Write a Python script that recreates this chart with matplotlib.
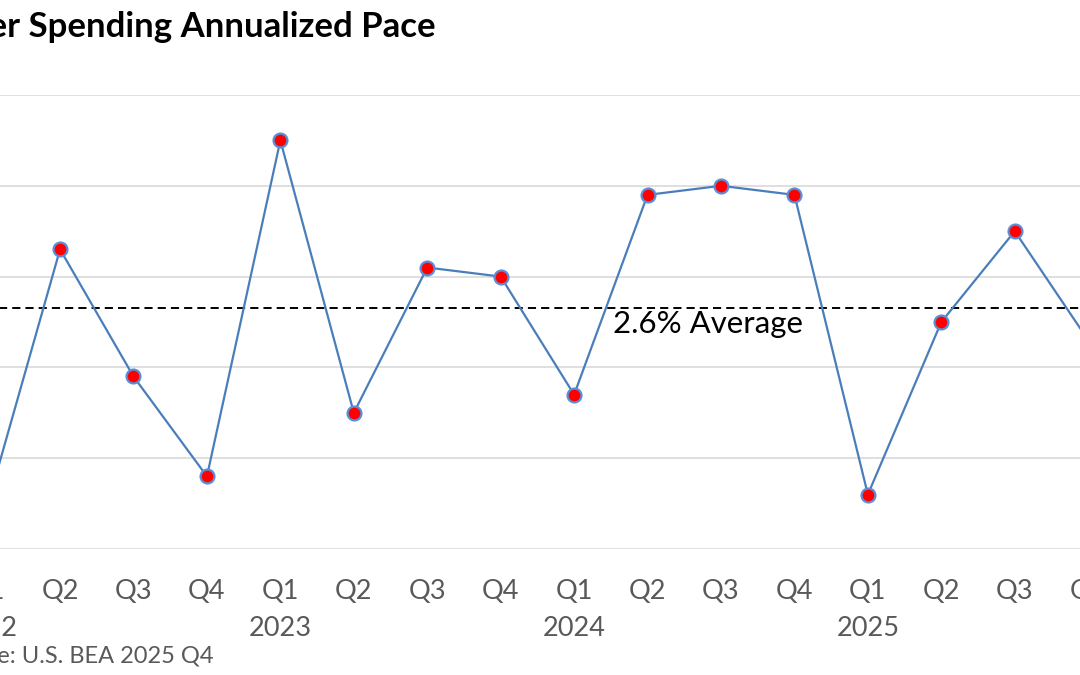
import numpy as np
import matplotlib.pyplot as plt

# quarterly real PCE growth, annualized (%), Q1 2022 .. Q4 2025
quarters = ['Q1', 'Q2', 'Q3', 'Q4'] * 4
years = ['2022', '2023', '2024', '2025']
pace = [0.45, 3.3, 1.9, 0.8,
        4.5, 1.5, 3.1, 3.0,
        1.7, 3.9, 4.0, 3.9,
        0.6, 2.5, 3.5, 2.3]
average = 2.65
avg_label = '2.6% Average'
title = 'Consumer Spending Annualized Pace'
source = 'Source: U.S. BEA 2025 Q4'

W, H = 1080, 675
plt.rcParams['font.family'] = ['Lato', 'DejaVu Sans']

fig = plt.figure(figsize=(W / 100, H / 100), dpi=100)
# the original chart is cropped on both sides, so the axes run past the figure
ax = fig.add_axes([-50.1 / W, 1 - 549 / H, 1175 / W, 454 / H])

x = np.arange(len(pace))
ax.plot(x, pace, color='#4a7ebb', lw=1.6, marker='o', ms=10,
        mfc='#ff0000', mec='#5b8ed6', mew=1.6, zorder=3)
ax.axhline(average, color='black', lw=1.4, ls=(0, (4.2, 2.6)), zorder=2)

ax.set_xlim(-0.5, len(pace) - 0.5)
ax.set_ylim(0, 5)
ax.set_yticks(np.arange(0, 6))
ax.grid(axis='y', color='#d9d9d9', lw=1.2)
ax.set_axisbelow(True)
ax.set_xticks([])
ax.tick_params(left=False, labelleft=False)
for s in ax.spines.values():
    s.set_visible(False)

tr = ax.get_xaxis_transform()
for i, q in enumerate(quarters):
    ax.text(i, -(599 - 549) / 454, q, transform=tr, ha='center',
            va='baseline', fontsize=19.5, color='#595959', clip_on=False)
for k, yr in enumerate(years):
    ax.text(4 * k, -(636 - 549) / 454, yr, transform=tr, ha='center',
            va='baseline', fontsize=19.5, color='#595959', clip_on=False)

fig.text(613 / W, 1 - 333 / H, avg_label, ha='left', va='baseline',
         fontsize=22.4, color='black')
fig.text(436 / W, 1 - 37 / H, title, ha='right', va='baseline',
         fontsize=25, fontweight='bold', color='black')
fig.text(214 / W, 1 - 662 / H, source, ha='right', va='baseline',
         fontsize=17, color='#595959')

fig.savefig('out.png', dpi=100)
